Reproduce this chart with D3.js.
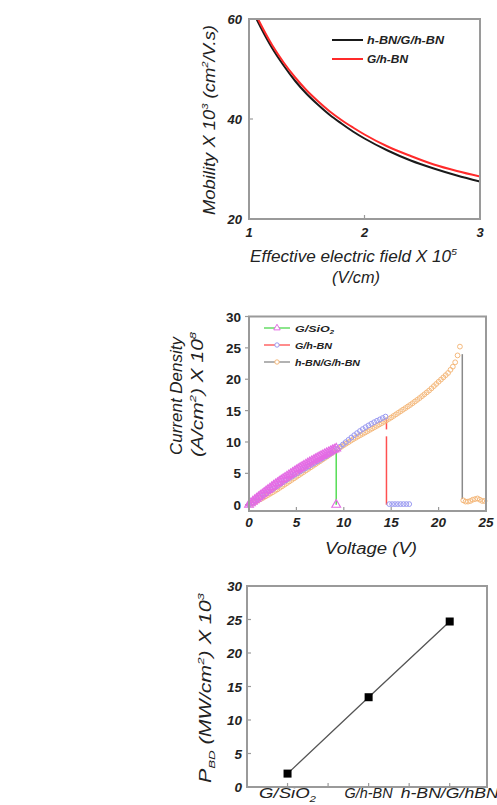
<!DOCTYPE html>
<html><head><meta charset="utf-8">
<script src="https://cdn.jsdelivr.net/npm/d3@7"></script>
<style>
body{margin:0;background:#fff}
svg{display:block}
text{font-family:"Liberation Sans",Arial,sans-serif;fill:#222}
</style>
</head><body>
<svg id="c" width="497" height="805"></svg>
<script>
// ---------- Panel 1: mobility vs effective field ----------
const fieldTicks = [1, 2, 3];
const mobTicks = [20, 40, 60];
const mobLegend = ["h-BN/G/h-BN", "G/h-BN"];
const fieldBlack = [1.065, 1.1, 1.2, 1.3, 1.4, 1.5, 1.6, 1.7, 1.8, 1.9, 2.0, 2.2, 2.4, 2.6, 2.8, 3.0];
const mobBlack   = [60.0, 58.4, 54.2, 50.7, 47.6, 45.0, 42.8, 40.8, 39.1, 37.5, 36.1, 33.7, 31.7, 30.1, 28.7, 27.5];
const fieldRed   = [1.078, 1.1, 1.2, 1.3, 1.4, 1.5, 1.6, 1.7, 1.8, 1.9, 2.0, 2.2, 2.4, 2.6, 2.8, 3.0];
const mobRed     = [60.0, 59.0, 54.8, 51.3, 48.3, 45.7, 43.5, 41.5, 39.8, 38.3, 36.9, 34.5, 32.6, 30.9, 29.6, 28.5];

// ---------- Panel 2: current density vs voltage ----------
const voltTicks = [0, 5, 10, 15, 20, 25];
const jTicks = [0, 5, 10, 15, 20, 25, 30];
const ivLegend = ["G/SiO2", "G/h-BN", "h-BN/G/h-BN"];
// G/SiO2 (magenta triangles), sampled every 0.2 V
const sioStep = 0.2;
const sioJ = [0.00,0.25,0.50,0.74,0.98,1.22,1.46,1.69,1.92,2.15,2.38,2.61,2.83,3.05,3.27,3.48,3.69,3.90,4.11,4.32,4.52,4.72,4.92,5.12,5.31,5.50,5.69,5.88,6.06,6.24,6.42,6.60,6.77,6.94,7.11,7.28,7.44,7.61,7.77,7.92,8.08,8.23,8.38,8.53,8.68,8.82,8.96];
const sioBreakV = [9.2];
const sioBreakJ = [0.0];
const sioDrop = [[9.2, 8.6], [9.2, 0.0]];
// G/h-BN (blue circles), sampled every 0.3 V
const ghbnStep = 0.3;
const ghbnJ = [0.00,0.30,0.60,0.90,1.20,1.50,1.80,2.10,2.40,2.70,3.00,3.30,3.60,3.90,4.18,4.47,4.75,5.02,5.30,5.57,5.84,6.10,6.37,6.63,6.90,7.16,7.43,7.70,7.98,8.27,8.57,8.90,9.25,9.60,9.97,10.35,10.72,11.08,11.42,11.75,12.06,12.36,12.64,12.90,13.15,13.38,13.60,13.82,14.05];
const ghbnPostV = [14.8, 15.1, 15.4, 15.7, 16.0, 16.3, 16.6, 16.9];
const ghbnPostJ = [0.1, 0.1, 0.1, 0.1, 0.1, 0.1, 0.1, 0.1];
const ghbnDropA = [[14.5, 13.7], [14.5, 12.0]];
const ghbnDropB = [[14.5, 10.9], [14.5, 0.0]];
// h-BN/G/h-BN (orange circles), sampled every 0.25 V
const hbnStep = 0.25;
const hbnJ = [0.00,0.15,0.33,0.52,0.72,0.92,1.12,1.33,1.55,1.77,1.99,2.22,2.45,2.70,2.95,3.20,3.45,3.70,3.95,4.20,4.45,4.70,4.95,5.20,5.45,5.70,5.95,6.20,6.45,6.70,6.95,7.20,7.45,7.71,7.97,8.24,8.50,8.75,9.00,9.25,9.50,9.74,9.97,10.21,10.45,10.66,10.88,11.09,11.30,11.51,11.72,11.94,12.15,12.36,12.57,12.79,13.00,13.23,13.45,13.68,13.90,14.15,14.40,14.65,14.90,15.15,15.40,15.65,15.90,16.17,16.45,16.72,17.00,17.30,17.60,17.90,18.20,18.55,18.90,19.25,19.60,19.95,20.30,20.65,21.00,21.50,22.00,22.70,23.80,25.20];
const hbnPostV = [22.6, 22.85, 23.1, 23.35, 23.6, 23.85, 24.1, 24.35, 24.6, 24.85];
const hbnPostJ = [0.7, 0.5, 0.5, 0.6, 0.8, 0.9, 1.0, 0.8, 0.6, 0.6];
const hbnDrop = [[22.5, 24.0], [22.5, 0.9]];

// ---------- Panel 3: breakdown power ----------
const devices = ["G/SiO2", "G/h-BN", "h-BN/G/hBN"];
const pbd = [2.0, 13.4, 24.7];
const pbdTicks = [0, 5, 10, 15, 20, 25, 30];

const svg = d3.select("#c");
svg.append("rect").attr("width", 497).attr("height", 805).attr("fill", "#fff");

const FRAME = "#9a9a9a";

function frame(x, y) {
  const [x0, x1] = x.range(), [y0, y1] = y.range();
  svg.append("rect").attr("x", x0).attr("y", y1).attr("width", x1 - x0).attr("height", y0 - y1)
    .attr("fill", "none").attr("stroke", FRAME).attr("stroke-width", 2);
}

// rich text: parts = [[text, mode]] mode: '', 'sup', 'sub'
function rich(sel, parts, size, len) {
  parts.forEach(([t, m]) => {
    const ts = sel.append("tspan").text(t);
    if (m === "sup") ts.attr("dy", -size * 0.42).attr("font-size", size * 0.62);
    if (m === "sub") ts.attr("dy", size * 0.25).attr("font-size", size * 0.62);
    if (m === "") {
      // restore baseline after a shifted part
      const prev = ts.node().previousSibling;
      if (prev && prev.getAttribute("dy")) ts.attr("dy", -parseFloat(prev.getAttribute("dy")));
    }
  });
  if (len) sel.attr("textLength", len).attr("lengthAdjust", "spacingAndGlyphs");
  return sel;
}

function sub2(label) {
  return label.endsWith("2") ? [[label.slice(0, -1), ""], ["2", "sub"]] : [[label, ""]];
}

// ================= Panel 1 =================
{
  const x = d3.scaleLinear().domain([1, 3]).range([249, 480]);
  const y = d3.scaleLinear().domain([20, 60]).range([219, 19]);
  const g = svg.append("g");
  const clipId = "clip1";
  svg.append("clipPath").attr("id", clipId).append("rect")
    .attr("x", 249).attr("y", 19).attr("width", 231).attr("height", 200);
  const line = d3.line().x(d => x(d[0])).y(d => y(d[1])).curve(d3.curveMonotoneX);
  g.append("path").datum(fieldBlack.map((e, i) => [e, mobBlack[i]]))
    .attr("d", line).attr("fill", "none").attr("stroke", "#1a1a1a").attr("stroke-width", 2)
    .attr("clip-path", `url(#${clipId})`);
  g.append("path").datum(fieldRed.map((e, i) => [e, mobRed[i]]))
    .attr("d", line).attr("fill", "none").attr("stroke", "#ff2a2a").attr("stroke-width", 2)
    .attr("clip-path", `url(#${clipId})`);
  frame(x, y);
  g.selectAll(".tx").data(fieldTicks).join("line")
    .attr("x1", d => x(d)).attr("x2", d => x(d)).attr("y1", 219).attr("y2", 215)
    .attr("stroke", FRAME).attr("stroke-width", 1.2);
  g.selectAll(".ty").data(mobTicks).join("line")
    .attr("x1", 249).attr("x2", 253).attr("y1", d => y(d)).attr("y2", d => y(d))
    .attr("stroke", FRAME).attr("stroke-width", 1.2);
  g.selectAll(".lx").data(fieldTicks).join("text")
    .attr("x", d => x(d)).attr("y", 237).attr("text-anchor", "middle")
    .attr("font-size", 13).attr("font-weight", "bold").attr("font-style", "italic").text(d => d);
  g.selectAll(".ly").data(mobTicks).join("text")
    .attr("x", 242).attr("y", d => y(d) + 4.5).attr("text-anchor", "end")
    .attr("font-size", 13).attr("font-weight", "bold").attr("font-style", "italic").text(d => d);
  const legCol = ["#1a1a1a", "#ff2a2a"];
  const legLen = [77, 41];
  mobLegend.forEach((t, i) => {
    const ly = 40 + i * 19;
    g.append("line").attr("x1", 332).attr("x2", 363).attr("y1", ly).attr("y2", ly)
      .attr("stroke", legCol[i]).attr("stroke-width", 2);
    g.append("text").attr("x", 367).attr("y", ly + 4).attr("font-size", 11)
      .attr("font-style", "italic").attr("font-weight", "bold")
      .attr("textLength", legLen[i]).attr("lengthAdjust", "spacingAndGlyphs").text(t);
  });
  rich(g.append("text").attr("x", 250).attr("y", 262)
    .attr("font-size", 16).attr("font-style", "italic"),
    [["Effective electric field X 10", ""], ["5", "sup"]], 16, 207);
  g.append("text").attr("x", 332).attr("y", 283)
    .attr("font-size", 16).attr("font-style", "italic")
    .attr("textLength", 48).attr("lengthAdjust", "spacingAndGlyphs").text("(V/cm)");
  rich(g.append("text").attr("transform", "translate(215,215) rotate(-90)")
    .attr("font-size", 16).attr("font-style", "italic"),
    [["Mobility X 10", ""], ["3", "sup"], [" (cm", ""], ["2", "sup"], ["/V.s)", ""]], 16, 190);
}

// ================= Panel 2 =================
{
  const x = d3.scaleLinear().domain([0, 25]).range([249, 486]);
  const y = d3.scaleLinear().domain([-1, 30]).range([511, 316.5]);
  const g = svg.append("g");
  frame(x, y);
  g.selectAll(".tx").data(voltTicks).join("line")
    .attr("x1", d => x(d)).attr("x2", d => x(d)).attr("y1", 511).attr("y2", 507)
    .attr("stroke", FRAME).attr("stroke-width", 1.2);
  g.selectAll(".ty").data(jTicks).join("line")
    .attr("x1", 249).attr("x2", 245).attr("y1", d => y(d)).attr("y2", d => y(d))
    .attr("stroke", FRAME).attr("stroke-width", 1.2);
  g.selectAll(".lx").data(voltTicks).join("text")
    .attr("x", d => x(d)).attr("y", 527).attr("text-anchor", "middle")
    .attr("font-size", 13.5).attr("font-weight", "bold").attr("font-style", "italic").text(d => d);
  g.selectAll(".ly").data(jTicks).join("text")
    .attr("x", 241).attr("y", d => y(d) + 5).attr("text-anchor", "end")
    .attr("font-size", 13.5).attr("font-weight", "bold").text(d => d);

  const line = d3.line().x(d => x(d[0])).y(d => y(d[1]));
  const orange = "#f5b97c", blue = "#9a9af2", mag = "#e46be4";
  g.append("path").datum(hbnDrop).attr("d", line).attr("stroke", "#8a8a8a").attr("stroke-width", 1.5).attr("fill", "none");
  g.append("path").datum(ghbnDropA).attr("d", line).attr("stroke", "#ff5050").attr("stroke-width", 1.5).attr("fill", "none");
  g.append("path").datum(ghbnDropB).attr("d", line).attr("stroke", "#ff5050").attr("stroke-width", 1.5).attr("fill", "none");
  g.append("path").datum(sioDrop).attr("d", line).attr("stroke", "#55dd55").attr("stroke-width", 1.5).attr("fill", "none");

  const hbnPts = hbnJ.map((j, i) => [i * hbnStep, j]).concat(hbnPostV.map((v, i) => [v, hbnPostJ[i]]));
  g.selectAll(".ho").data(hbnPts).join("circle")
    .attr("cx", d => x(d[0])).attr("cy", d => y(d[1])).attr("r", 2.4)
    .attr("fill", "none").attr("stroke", orange).attr("stroke-width", 1);
  const ghPts = ghbnJ.map((j, i) => [i * ghbnStep, j]).concat(ghbnPostV.map((v, i) => [v, ghbnPostJ[i]]));
  g.selectAll(".bo").data(ghPts).join("circle")
    .attr("cx", d => x(d[0])).attr("cy", d => y(d[1])).attr("r", 2.4)
    .attr("fill", "none").attr("stroke", blue).attr("stroke-width", 1);
  const tri = d3.symbol().type(d3.symbolTriangle).size(34);
  const sioPts = sioJ.map((j, i) => [i * sioStep, j]).concat(sioBreakV.map((v, i) => [v, sioBreakJ[i]]));
  g.selectAll(".mt").data(sioPts).join("path")
    .attr("transform", d => `translate(${x(d[0])},${y(d[1])})`).attr("d", tri)
    .attr("fill", "none").attr("stroke", mag).attr("stroke-width", 1.1);

  const lineCols = ["#66dd66", "#ff6666", "#999999"];
  const mkCols = [mag, blue, orange];
  const legLen = [39, 37, 65];
  const triS = d3.symbol().type(d3.symbolTriangle).size(18);
  ivLegend.forEach((t, i) => {
    const ly = 328 + i * 17;
    g.append("line").attr("x1", 264).attr("x2", 290).attr("y1", ly).attr("y2", ly)
      .attr("stroke", lineCols[i]).attr("stroke-width", 1.5);
    if (i === 0) {
      g.append("path").attr("transform", `translate(277,${ly})`).attr("d", triS)
        .attr("fill", "#fff").attr("stroke", mkCols[i]).attr("stroke-width", 1);
    } else {
      g.append("circle").attr("cx", 277).attr("cy", ly).attr("r", 2.2)
        .attr("fill", "#fff").attr("stroke", mkCols[i]).attr("stroke-width", 1);
    }
    rich(g.append("text").attr("x", 295).attr("y", ly + 3.5).attr("font-size", 9.5)
      .attr("font-style", "italic").attr("font-weight", "bold"), sub2(t), 9.5, legLen[i]);
  });
  g.append("text").attr("x", 325).attr("y", 554)
    .attr("font-size", 16).attr("font-style", "italic")
    .attr("textLength", 92).attr("lengthAdjust", "spacingAndGlyphs").text("Voltage (V)");
  g.append("text").attr("transform", "translate(182,455) rotate(-90)")
    .attr("font-size", 16).attr("font-style", "italic")
    .attr("textLength", 118).attr("lengthAdjust", "spacingAndGlyphs").text("Current Density");
  rich(g.append("text").attr("transform", "translate(203,457) rotate(-90)")
    .attr("font-size", 16).attr("font-style", "italic"),
    [["(A/cm", ""], ["2", "sup"], [") X 10", ""], ["8", "sup"]], 16, 125);
}

// ================= Panel 3 =================
{
  const x = d3.scaleLinear().domain([0.5, 3.46]).range([247, 487]);
  const y = d3.scaleLinear().domain([0, 30]).range([787, 586]);
  const g = svg.append("g");
  frame(x, y);
  const xt = [1, 1.5, 2, 2.5, 3];
  g.selectAll(".tx").data(xt).join("line")
    .attr("x1", d => x(d)).attr("x2", d => x(d)).attr("y1", 787).attr("y2", 783)
    .attr("stroke", FRAME).attr("stroke-width", 1.2);
  g.selectAll(".ty").data(pbdTicks).join("line")
    .attr("x1", 247).attr("x2", 251).attr("y1", d => y(d)).attr("y2", d => y(d))
    .attr("stroke", FRAME).attr("stroke-width", 1.2);
  g.selectAll(".ly").data(pbdTicks).join("text")
    .attr("x", 242).attr("y", d => y(d) + 5).attr("text-anchor", "end")
    .attr("font-size", 13.5).attr("font-weight", "bold").attr("font-style", "italic").text(d => d);
  const devLen = [57, 48, 98];
  devices.forEach((t, i) => {
    rich(g.append("text").attr("x", x(i + 1) - devLen[i] / 2).attr("y", 798)
      .attr("font-size", 15).attr("font-style", "italic"), sub2(t), 15, devLen[i]);
  });
  const pts = pbd.map((v, i) => [i + 1, v]);
  g.append("path").datum(pts).attr("d", d3.line().x(d => x(d[0])).y(d => y(d[1])))
    .attr("fill", "none").attr("stroke", "#555").attr("stroke-width", 1.3);
  g.selectAll(".sq").data(pts).join("rect")
    .attr("x", d => x(d[0]) - 4).attr("y", d => y(d[1]) - 4).attr("width", 8).attr("height", 8)
    .attr("fill", "#000");
  rich(g.append("text").attr("transform", "translate(211,783) rotate(-90)")
    .attr("font-size", 16).attr("font-style", "italic"),
    [["P", ""], ["BD", "sub"], [" (MW/cm", ""], ["2", "sup"], [") X 10", ""], ["3", "sup"]], 16, 190);
}
</script>
</body></html>
